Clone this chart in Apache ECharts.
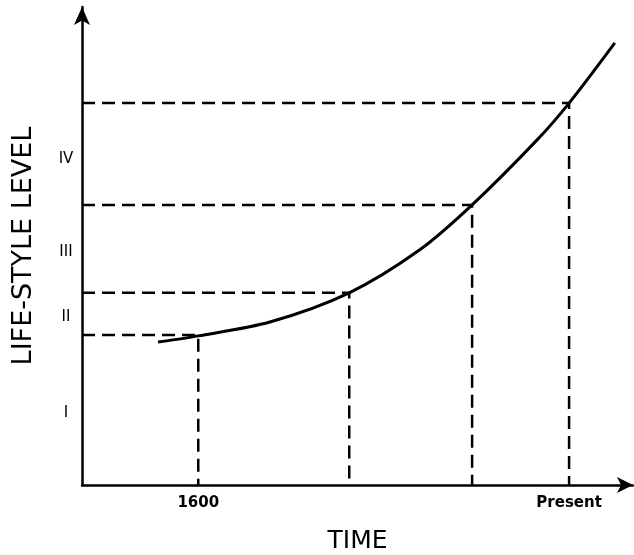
<!DOCTYPE html>
<html>
<head>
<meta charset="utf-8">
<script src="https://cdn.jsdelivr.net/npm/echarts@6/dist/echarts.min.js"></script>
<style>
html,body{margin:0;padding:0;background:#fff;}
#chart{width:634px;height:555px;}
</style>
</head>
<body>
<div id="chart"></div>
<script>
// Curve (time in relative units 0-100, level in relative units 0-100)
const curveTime  = [13.8, 21.1, 34.1, 48.5, 61.3, 70.8, 82.6, 88.4, 96.7];
const curveLevel = [29.9, 31.2, 34.1, 40.2, 49.2, 58.6, 72.2, 79.9, 92.5];

// Points marked by dashed guide lines
const markTime  = [21.1, 48.5, 70.8, 88.4];
const markLevel = [31.4, 40.2, 58.6, 79.9];

// Level labels on the vertical axis
const levelTicks  = [15.1, 35.1, 48.7, 68.2];
const levelLabels = ['I', 'II', 'III', 'IV'];

// Time labels on the horizontal axis
const timeTicks  = [21.1, 88.4];
const timeLabels = ['1600', 'Present'];

function nearestLabel(v, ticks, labels) {
  let best = 0, d = Infinity;
  ticks.forEach((t, i) => { const dd = Math.abs(t - v); if (dd < d) { d = dd; best = i; } });
  return labels[best];
}

const FONT = 'DejaVu Sans';

const guideSeries = markTime.map((t, i) => ({
  type: 'line',
  data: [[0, markLevel[i]], [t, markLevel[i]], [t, 0]],
  symbol: 'none',
  silent: true,
  lineStyle: { color: '#000', width: 2.5, type: [13, 7] },
  z: 2
}));

const chart = echarts.init(document.getElementById('chart'), null, { renderer: 'canvas' });
chart.setOption({
  animation: false,
  backgroundColor: '#fff',
  grid: { left: 82, right: 1, top: 7, bottom: 70, containLabel: false, outerBoundsMode: 'none' },
  xAxis: {
    type: 'value', min: 0, max: 100,
    name: 'TIME', nameLocation: 'middle', nameGap: 44,
    nameTextStyle: { fontFamily: FONT, fontSize: 25, color: '#000' },
    axisLine: { show: true, symbol: ['none', 'arrow'], symbolSize: [12, 16], lineStyle: { color: '#000', width: 2.5 } },
    axisTick: { show: false },
    splitLine: { show: false },
    axisLabel: {
      customValues: timeTicks,
      formatter: v => nearestLabel(v, timeTicks, timeLabels),
      margin: 11, fontFamily: FONT, fontSize: 15, fontWeight: 'bold', color: '#000'
    }
  },
  yAxis: {
    type: 'value', min: 0, max: 100,
    name: 'LIFE-STYLE LEVEL', nameLocation: 'middle', nameGap: 45, nameRotate: 90,
    nameTextStyle: { fontFamily: FONT, fontSize: 27, color: '#000' },
    axisLine: { show: true, symbol: ['none', 'arrow'], symbolSize: [12, 18], lineStyle: { color: '#000', width: 2.5 } },
    axisTick: { show: false },
    splitLine: { show: false },
    axisLabel: {
      customValues: levelTicks,
      formatter: v => nearestLabel(v, levelTicks, levelLabels),
      margin: 16, align: 'center', fontFamily: FONT, fontSize: 15, color: '#000'
    }
  },
  series: [
    ...guideSeries,
    {
      type: 'line',
      data: curveTime.map((t, i) => [t, curveLevel[i]]),
      smooth: 0.3,
      symbol: 'none',
      silent: true,
      lineStyle: { color: '#000', width: 3 },
      z: 3
    }
  ]
});
</script>
</body>
</html>
